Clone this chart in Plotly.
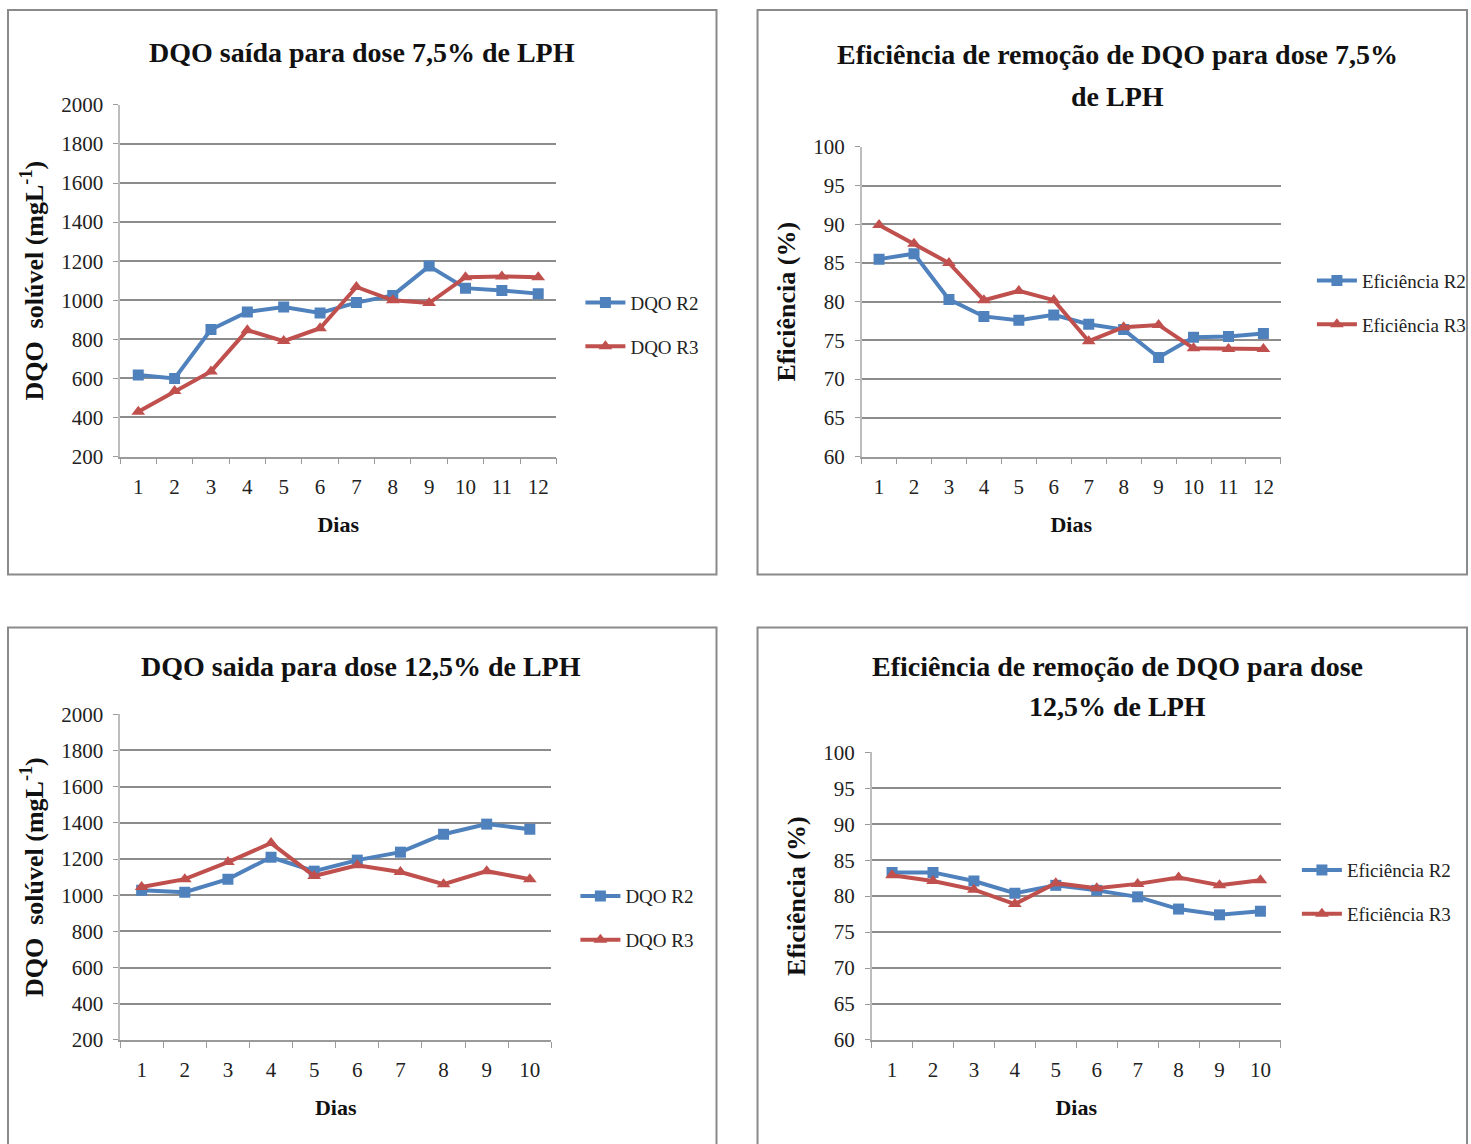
import plotly.graph_objects as go

# ---------------- data ----------------
dias12 = [str(i) for i in range(1, 13)]
dias10 = [str(i) for i in range(1, 11)]

dqo75_r2 = [617, 600, 850, 940, 965, 935, 988, 1025, 1175, 1062, 1050, 1034]
dqo75_r3 = [430, 535, 636, 847, 791, 857, 1068, 1000, 986, 1118, 1122, 1118]

ef75_r2 = [85.5, 86.2, 80.3, 78.1, 77.6, 78.3, 77.1, 76.4, 72.8, 75.4, 75.5, 75.9]
ef75_r3 = [89.9, 87.5, 85.0, 80.2, 81.4, 80.2, 74.9, 76.7, 77.0, 74.0, 73.9, 73.9]

dqo125_r2 = [1028, 1017, 1089, 1210, 1133, 1194, 1238, 1337, 1393, 1365]
dqo125_r3 = [1045, 1089, 1183, 1288, 1106, 1166, 1128, 1061, 1133, 1089]

ef125_r2 = [83.3, 83.3, 82.1, 80.4, 81.5, 80.8, 79.9, 78.2, 77.4, 77.9]
ef125_r3 = [82.9, 82.1, 80.9, 78.9, 81.8, 81.1, 81.7, 82.6, 81.5, 82.2]

titles = [
    ["DQO saída para dose 7,5% de LPH"],
    ["Eficiência de remoção de DQO para dose 7,5%", "de LPH"],
    ["DQO saida para dose 12,5% de LPH"],
    ["Eficiência de remoção de DQO para dose", "12,5% de LPH"],
]
ytitle_dqo = "DQO  solúvel (mgL<sup>-1</sup>)"
ytitle_ef = "Eficiência (%)"
xtitle = "Dias"

# ---------------- layout helpers ----------------
W, H = 1471, 1144
FONT = "Liberation Serif, Times New Roman, serif"
BLUE = "#4F81BD"
RED = "#C0504D"

# calibration of the page capture (measured from previous renders)
SX, SY, OY = 0.983, 0.98, 12.0


def px(x):
    return (x / SX) / W


def py(y):
    return 1 - ((y - OY) / SY) / H


fig = go.Figure()

panels = [
    dict(x=dias12, r2=dqo75_r2, r3=dqo75_r3, names=("DQO R2", "DQO R3"),
         yr=[200, 2000], dt=200, xd=(120, 556), yd=(105, 457), yt=ytitle_dqo,
         leg=(580, 325)),
    dict(x=dias12, r2=ef75_r2, r3=ef75_r3, names=("Eficiência R2", "Eficiência R3"),
         yr=[60, 100], dt=5, xd=(861, 1280), yd=(147, 457), yt=ytitle_ef,
         leg=(1311, 303)),
    dict(x=dias10, r2=dqo125_r2, r3=dqo125_r3, names=("DQO R2", "DQO R3"),
         yr=[200, 2000], dt=200, xd=(120, 551), yd=(715, 1041), yt=ytitle_dqo,
         leg=(575, 919)),
    dict(x=dias10, r2=ef125_r2, r3=ef125_r3, names=("Eficiência R2", "Eficiência R3"),
         yr=[60, 100], dt=5, xd=(871, 1280), yd=(753, 1041), yt=ytitle_ef,
         leg=(1296, 893)),
]

title_pos = [
    [(362, 53)],
    [(1117, 55), (1117, 97)],
    [(361, 667)],
    [(1117, 667), (1117, 707)],
]

boxes = [(8, 10, 716, 575), (757, 10, 1466, 575), (8, 628, 716, 1160), (757, 628, 1466, 1160)]

for i, p in enumerate(panels):
    n = i + 1
    xa = "x" if n == 1 else f"x{n}"
    ya = "y" if n == 1 else f"y{n}"
    lg = "legend" if n == 1 else f"legend{n}"
    fig.add_trace(go.Scatter(
        x=p["x"], y=p["r2"], name=p["names"][0], mode="lines+markers",
        line=dict(color=BLUE, width=4),
        marker=dict(symbol="square", size=11, color=BLUE),
        xaxis=xa, yaxis=ya, legend=lg, legendgroup=f"a{n}"))
    fig.add_trace(go.Scatter(
        x=p["x"], y=p["r3"], name=p["names"][1], mode="lines+markers",
        line=dict(color=RED, width=4),
        marker=dict(symbol="triangle-up", size=12, color=RED),
        xaxis=xa, yaxis=ya, legend=lg, legendgroup=f"b{n}"))

    ncat = len(p["x"])
    fig.layout[f"xaxis{'' if n == 1 else n}"] = dict(
        domain=[px(p["xd"][0]), px(p["xd"][1])], anchor=ya, type="category",
        range=[-0.5, ncat - 0.5], showgrid=False, showline=True,
        linecolor="#9a9a9a", linewidth=1.5, ticks="outside", tickson="boundaries",
        ticklen=6, tickcolor="#9a9a9a", ticklabelstandoff=10,
        tickfont=dict(family=FONT, size=21, color="#222"),
        title=dict(text=f"<b>{xtitle}</b>", standoff=19,
                   font=dict(family=FONT, size=22, color="#111")),
        fixedrange=True)
    fig.layout[f"yaxis{'' if n == 1 else n}"] = dict(
        domain=[py(p["yd"][1]), py(p["yd"][0])], anchor=xa,
        range=p["yr"], dtick=p["dt"], tick0=p["yr"][0],
        showgrid=True, gridcolor="#8c8c8c", gridwidth=1.6,
        showline=True, linecolor="#bdbdbd", linewidth=1.5,
        ticks="outside", ticklen=5, tickcolor="#9a9a9a", ticklabelstandoff=6,
        tickfont=dict(family=FONT, size=21, color="#222"),
        zeroline=False,
        title=dict(text=f"<b>{p['yt']}</b>", standoff=10,
                   font=dict(family=FONT, size=26, color="#111")),
        fixedrange=True)
    fig.layout[lg] = dict(
        x=px(p["leg"][0]), y=py(p["leg"][1]), xanchor="left", yanchor="middle",
        font=dict(family=FONT, size=19, color="#222"), bgcolor="rgba(0,0,0,0)",
        tracegroupgap=16, itemwidth=40)

    for (tx, ty), t in zip(title_pos[i], titles[i]):
        fig.add_annotation(x=px(tx), y=py(ty), xref="paper", yref="paper",
                           text=f"<b>{t}</b>", showarrow=False,
                           xanchor="center", yanchor="middle",
                           font=dict(family=FONT, size=28, color="#111"))

    x0, y0, x1, y1 = boxes[i]
    fig.add_shape(type="rect", xref="paper", yref="paper",
                  x0=px(x0), x1=px(x1), y0=py(y1), y1=py(y0),
                  line=dict(color="#8a8a8a", width=2), fillcolor="rgba(0,0,0,0)",
                  layer="below")

fig.update_layout(
    width=W, height=H, margin=dict(l=0, r=0, t=0, b=0),
    paper_bgcolor="white", plot_bgcolor="white",
    font=dict(family=FONT),
)

fig.write_html("out.html")
